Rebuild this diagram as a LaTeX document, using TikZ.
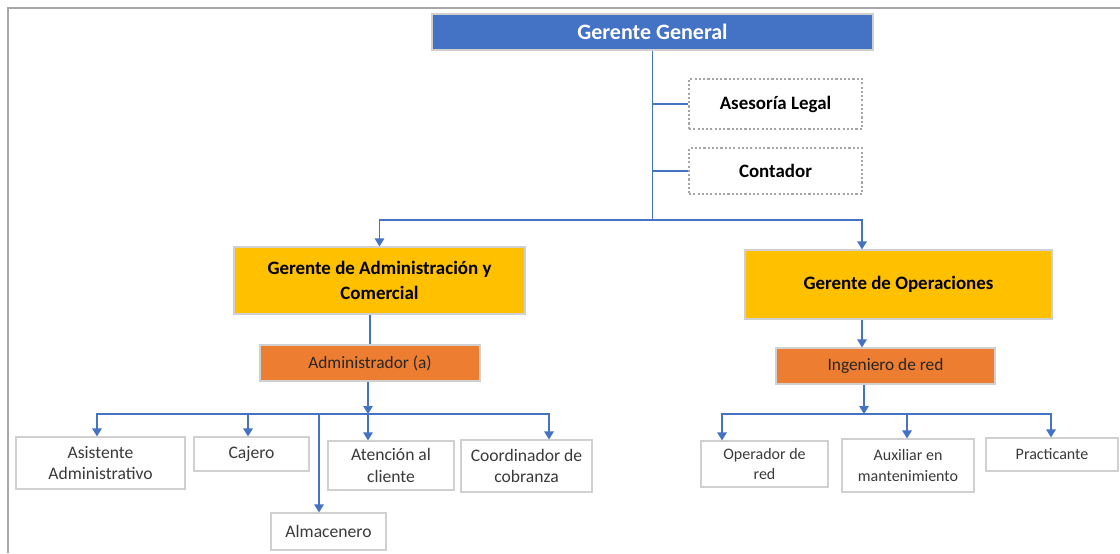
\documentclass[tikz,border=0pt]{standalone}
\usepackage{fontspec}
\setmainfont{Carlito}
\usetikzlibrary{calc,arrows.meta}
\definecolor{gblue}{HTML}{4472C4}
\definecolor{gyellow}{HTML}{FFC000}
\definecolor{gorange}{HTML}{ED7D31}
\definecolor{gborder}{HTML}{D0D0D0}
\definecolor{gdot}{HTML}{A6A6A6}
\definecolor{gframe}{HTML}{A8A8A8}
\definecolor{gtext}{HTML}{3A3A3A}
\tikzset{
  box/.style={draw=gborder, line width=0.8pt, align=center, inner sep=2pt},
  topbox/.style={box, fill=gblue, text=white, font=\bfseries\fontsize{16.5}{19}\selectfont},
  mgrbox/.style={box, fill=gyellow, text=black, font=\bfseries\fontsize{14.2}{19}\selectfont},
  midbox/.style={box, fill=gorange, text=black!85, font=\fontsize{13}{15}\selectfont},
  leafbox/.style={box, fill=white, text=gtext, font=\fontsize{13.2}{16}\selectfont},
  leafboxr/.style={box, fill=white, text=gtext, font=\fontsize{12}{15.5}\selectfont},
  dotbox/.style={draw=gdot, line width=1.6pt, dash pattern=on 1.6pt off 1.6pt, fill=white, align=center, font=\bfseries\fontsize{14.2}{16}\selectfont},
  conn/.style={draw=gblue, line width=1.3pt},
  arr/.style={conn, -{Triangle[length=6pt,width=7pt]}}
}
\begin{document}
\begin{tikzpicture}[x=0.75pt,y=-0.75pt]
\useasboundingbox (0,0) rectangle (1120,553);
\draw[gframe, line width=1.6pt] (8,553) -- (8,8) -- (1120,8);

% nodes
\node[topbox, minimum width=441*0.75pt, minimum height=36*0.75pt] (gg) at (652.5,32) {Gerente General};
\node[dotbox, minimum width=173*0.75pt, minimum height=50*0.75pt] (legal) at (775.5,104) {Asesoría Legal};
\node[dotbox, minimum width=173*0.75pt, minimum height=46*0.75pt] (cont) at (775.5,171) {Contador};
\node[mgrbox, minimum width=291*0.75pt, minimum height=67*0.75pt] (gac) at (379.5,280.5) {Gerente de Administración y\\Comercial};
\node[mgrbox, minimum width=307*0.75pt, minimum height=69*0.75pt] (go) at (898.5,284.5) {Gerente de Operaciones};
\node[midbox, minimum width=220*0.75pt, minimum height=36*0.75pt] (adm) at (370,363) {Administrador (a)};
\node[midbox, minimum width=219*0.75pt, minimum height=36*0.75pt] (ing) at (885.5,366) {Ingeniero de red};
\node[leafbox, minimum width=169*0.75pt, minimum height=52*0.75pt] (asis) at (100.5,463) {Asistente\\Administrativo};
\node[leafbox, minimum width=115*0.75pt, minimum height=34*0.75pt] (caj) at (251.5,454) {Cajero};
\node[leafbox, minimum width=126*0.75pt, minimum height=49*0.75pt] (aten) at (391,465.5) {Atención al\\cliente};
\node[leafbox, minimum width=131*0.75pt, minimum height=52*0.75pt] (coord) at (526.5,466) {Coordinador de\\cobranza};
\node[leafbox, minimum width=115*0.75pt, minimum height=37*0.75pt] (alm) at (328.5,531.5) {Almacenero};
\node[leafboxr, minimum width=127*0.75pt, minimum height=46*0.75pt] (oper) at (764.5,464) {Operador de\\red};
\node[leafboxr, minimum width=132*0.75pt, minimum height=53*0.75pt] (aux) at (908,465.5) {Auxiliar en\\mantenimiento};
\node[leafboxr, minimum width=132*0.75pt, minimum height=33*0.75pt] (prac) at (1052,454.5) {Practicante};

% bar levels and connector x positions
\coordinate (bar1) at (0,220);
\coordinate (barL) at (0,414);
\coordinate (barR) at (0,414);
\coordinate (goT) at ($(go.north)+(-36.5,0)$);
\coordinate (ja) at ($(adm.south)+(-2,0)$);
\coordinate (asisT) at ($(asis.north)+(-3.5,0)$);
\coordinate (cajT) at ($(caj.north)+(-3.5,0)$);
\coordinate (almT) at ($(alm.north)+(-9.5,0)$);
\coordinate (atenT) at ($(aten.north)+(-23,0)$);
\coordinate (coordT) at ($(coord.north)+(22.5,0)$);
\coordinate (goB) at ($(go.south)+(-36.5,0)$);
\coordinate (ingT) at ($(ing.north)+(-23.5,0)$);
\coordinate (jb) at ($(ing.south)+(-21.5,0)$);
\coordinate (operT) at ($(oper.north)+(-42.5,0)$);
\coordinate (auxT) at ($(aux.north)+(-1,0)$);
\coordinate (pracT) at ($(prac.north)+(-1,0)$);

% top connectors
\draw[conn] (gg.south) -- (gg.south |- bar1);
\draw[conn] (gg.south |- legal.west) -- (legal.west);
\draw[conn] (gg.south |- cont.west) -- (cont.west);
\draw[arr] (gg.south |- bar1) -| (gac.north);
\draw[arr] (gg.south |- bar1) -| (goT);

% left branch
\draw[conn] (adm.north |- gac.south) -- (adm.north);
\draw[arr] (ja) -- (ja |- barL);
\draw[arr] (ja |- barL) -| (asisT);
\draw[arr] (ja |- barL) -| (cajT);
\draw[arr] (ja |- barL) -| (almT);
\draw[arr] (ja |- barL) -| (atenT);
\draw[arr] (ja |- barL) -| (coordT);

% right branch
\draw[arr] (goB) -- (ingT);
\draw[arr] (jb) -- (jb |- barR);
\draw[arr] (jb |- barR) -| (operT);
\draw[arr] (jb |- barR) -| (auxT);
\draw[arr] (jb |- barR) -| (pracT);
\end{tikzpicture}
\end{document}
